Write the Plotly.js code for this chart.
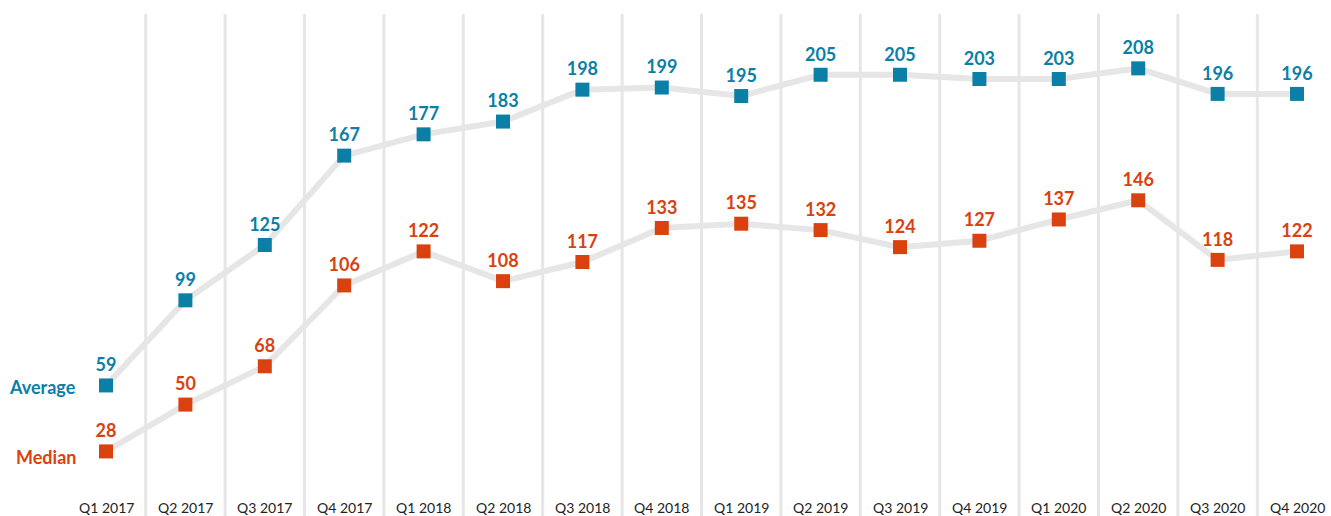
<!DOCTYPE html>
<html><head><meta charset="utf-8">
<script src="https://cdn.plot.ly/plotly-3.0.1.min.js"></script>
<style>html,body{margin:0;padding:0;background:#fff}#c{width:1331px;height:516px}</style>
</head><body><div id="c"></div>
<script>
const categories = ["Q1 2017","Q2 2017","Q3 2017","Q4 2017","Q1 2018","Q2 2018","Q3 2018","Q4 2018","Q1 2019","Q2 2019","Q3 2019","Q4 2019","Q1 2020","Q2 2020","Q3 2020","Q4 2020"];
const averageValues = [59,99,125,167,177,183,198,199,195,205,205,203,203,208,196,196];
const medianValues = [28,50,68,106,122,108,117,133,135,132,124,127,137,146,118,122];
const seriesNames = ["Average","Median"];

const teal = "#0b7fa6", orange = "#d9420f", lineGray = "#e6e6e6";
const idx = categories.map((_, i) => i);
const font = "Lato, 'Open Sans', sans-serif";

function trace(vals, color) {
  return {
    x: idx, y: vals, type: "scatter", mode: "lines+markers+text",
    text: vals.map(String), textposition: "top center",
    textfont: {family: font, size: 18, color: color, weight: 700},
    line: {color: lineGray, width: 6},
    marker: {symbol: "square", size: 14, color: color},
    hoverinfo: "skip", cliponaxis: false
  };
}

const shapes = [];
for (let i = 0; i < categories.length - 1; i++) {
  shapes.push({type: "line", xref: "x", yref: "paper", x0: i + 0.5, x1: i + 0.5, y0: 0, y1: 1 - 14/516,
    line: {color: "#e6e6e6", width: 3}, layer: "below"});
}

const annotations = categories.map((c, i) => ({
  x: i, y: 1 - 507/516, xref: "x", yref: "paper", text: c, showarrow: false,
  font: {family: font, size: 14, color: "#222"}, xanchor: "center", yanchor: "middle"
}));
annotations.push({x: 78/1331, y: 1 - 387/516, xref: "paper", yref: "paper", text: "<b>" + seriesNames[0] + "</b>",
  showarrow: false, xanchor: "right", yanchor: "middle", font: {family: font, size: 18, color: teal}});
annotations.push({x: 78/1331, y: 1 - 457/516, xref: "paper", yref: "paper", text: "<b>" + seriesNames[1] + "</b>",
  showarrow: false, xanchor: "right", yanchor: "middle", font: {family: font, size: 18, color: orange}});

const layout = {
  width: 1331, height: 516,
  margin: {l: 0, r: 0, t: 0, b: 0},
  paper_bgcolor: "#fff", plot_bgcolor: "#fff",
  showlegend: false,
  xaxis: {range: [-1.335, 15.428], showgrid: false, zeroline: false, showticklabels: false, fixedrange: true},
  yaxis: {range: [-2.35, 240.13], showgrid: false, zeroline: false, showticklabels: false, fixedrange: true},
  shapes: shapes, annotations: annotations
};

Plotly.newPlot("c", [trace(medianValues, orange), trace(averageValues, teal)], layout, {displayModeBar: false, staticPlot: true});
</script></body></html>
